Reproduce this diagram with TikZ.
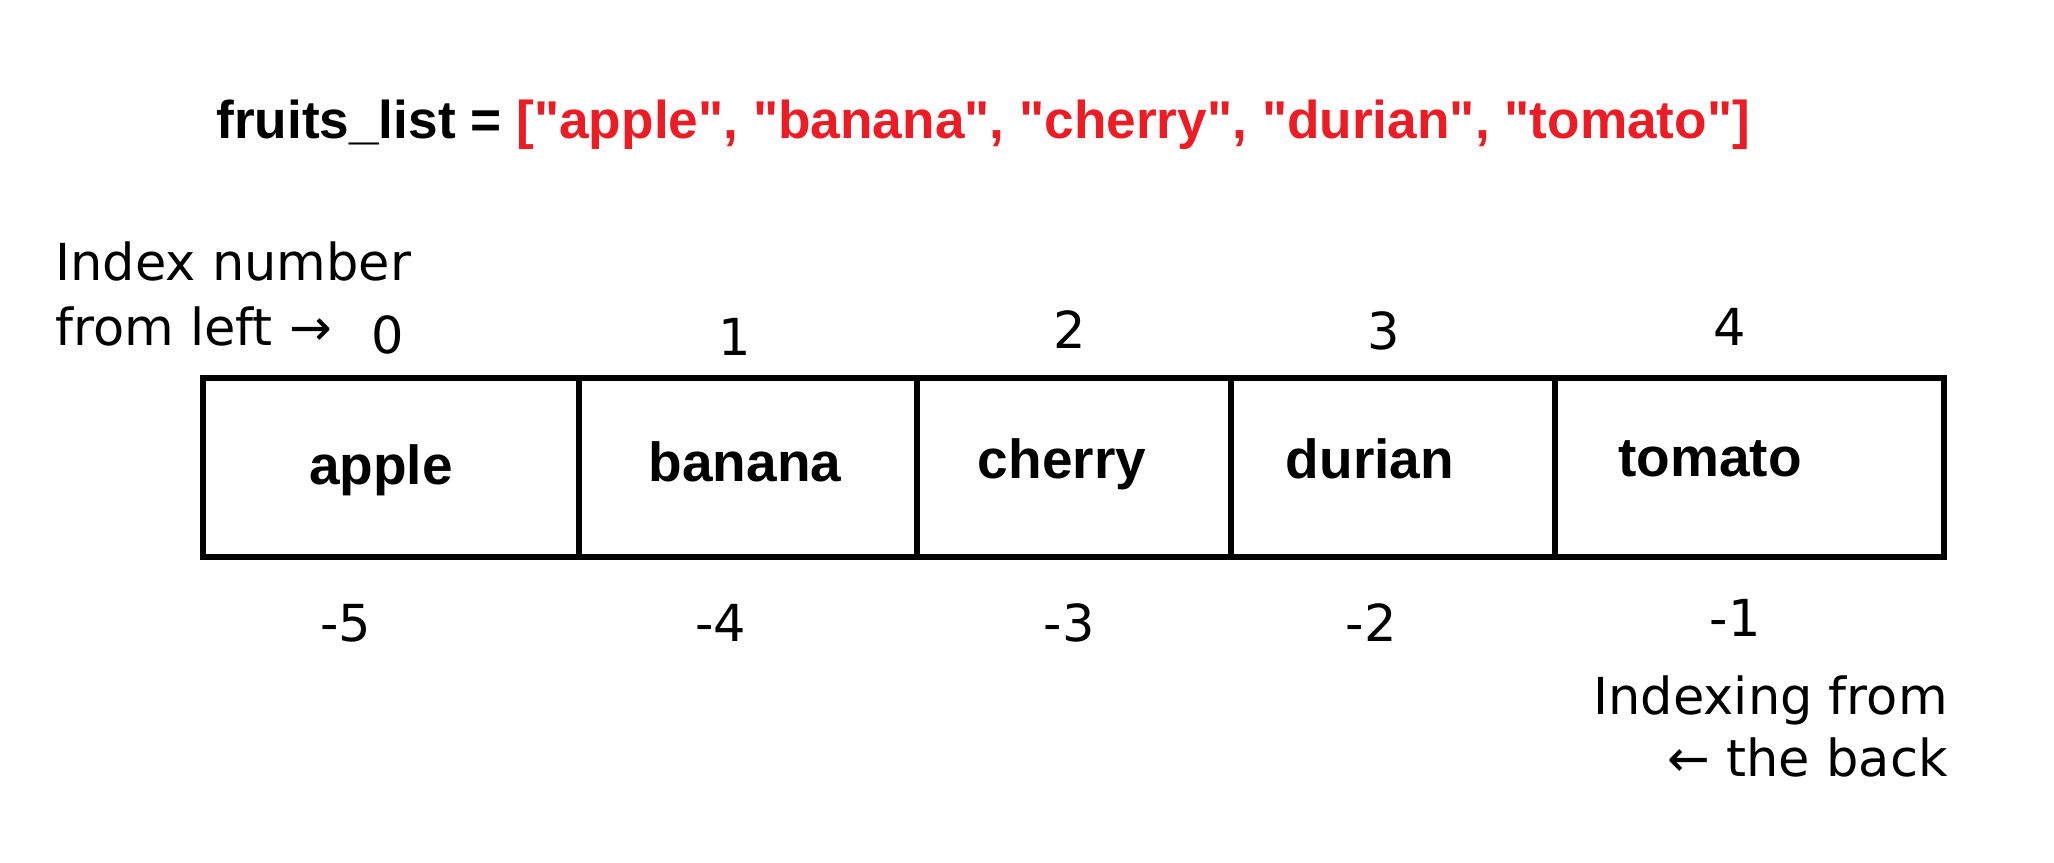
\documentclass[tikz,border=0pt]{standalone}
\usepackage{fontspec}
\setmainfont{DejaVu Sans}
\newfontfamily\lsans{Liberation Sans}
\definecolor{codered}{RGB}{237,28,36}
\begin{document}
\begin{tikzpicture}[x=0.5pt,y=-0.5pt,
  reg/.style={inner sep=0pt, font=\fontsize{25.5}{30}\selectfont},
  bld/.style={inner sep=0pt, font=\lsans\bfseries\fontsize{27.5}{33}\selectfont},
  ttl/.style={inner sep=0pt, font=\lsans\bfseries\fontsize{26.6}{32}\selectfont},
  cell/.style={draw, line width=3pt, inner sep=0pt, outer sep=0pt, minimum height=89.5pt}]
\useasboundingbox (0,0) rectangle (2054,862);
% title
\node[ttl, anchor=base west] (title) at (216,138) {fruits\_list = \textcolor{codered}{["apple", "banana", "cherry", "durian", "tomato"]}};
% cells
\node[cell, minimum width=188pt] (c0) at (391,467.5) {};
\node[cell, minimum width=169pt] (c1) at (748,467.5) {};
\node[cell, minimum width=157pt] (c2) at (1074,467.5) {};
\node[cell, minimum width=162pt] (c3) at (1393,467.5) {};
\node[cell, minimum width=194.5pt] (c4) at (1749.5,467.5) {};
% cell labels
\node[bld, anchor=base] (l0) at (381,484) {apple};
\node[bld, anchor=base] (l1) at (745,481) {banana};
\node[bld, anchor=base] (l2) at (1062,478) {cherry};
\node[bld, anchor=base] (l3) at (1370,478) {durian};
\node[bld, anchor=base] (l4) at (1710,476) {tomato};
% left caption
\node[reg, anchor=base west] (capA) at (55,280) {Index number};
\node[reg, anchor=base west] (capB) at (55,345) {from left →};
% positive indices
\node[reg, anchor=base] (p0) at (388,353) {0};
\node[reg, anchor=base] (p1) at (735,355) {1};
\node[reg, anchor=base] (p2) at (1070,348) {2};
\node[reg, anchor=base] (p3) at (1384,349) {3};
\node[reg, anchor=base] (p4) at (1730,345) {4};
% negative indices
\node[reg, anchor=base] (n0) at (346,641) {-5};
\node[reg, anchor=base] (n1) at (721,641) {-4};
\node[reg, anchor=base] (n2) at (1069,641) {-3};
\node[reg, anchor=base] (n3) at (1371,641) {-2};
\node[reg, anchor=base] (n4) at (1735,636) {-1};
% right caption
\node[reg, anchor=base east] (capC) at (1948,714) {Indexing from};
\node[reg, anchor=base east] (capD) at (1948,776) {← the back};
\end{tikzpicture}
\end{document}
